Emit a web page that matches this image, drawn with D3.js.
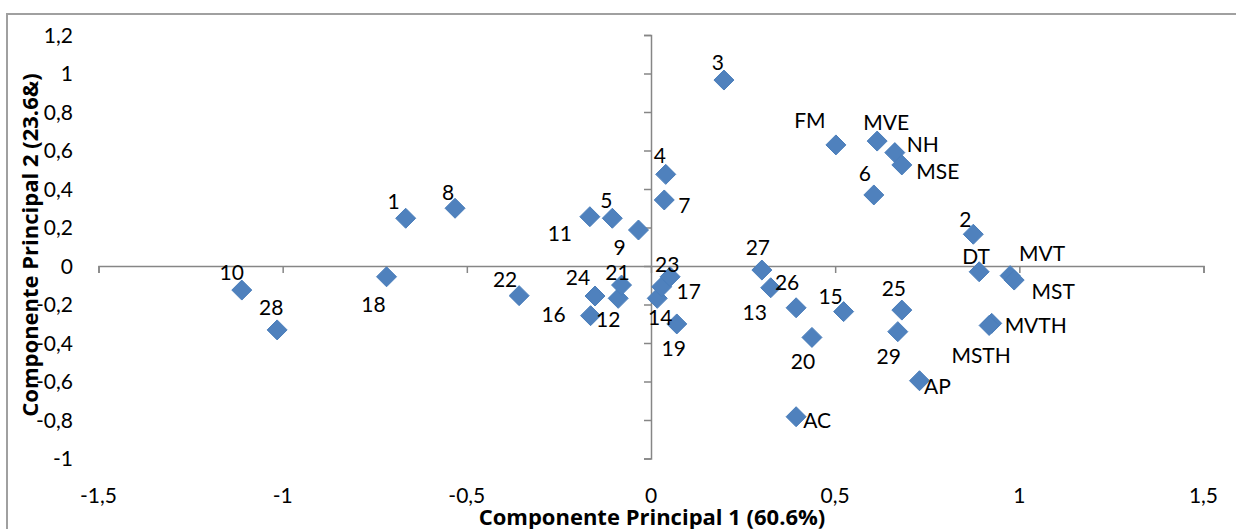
<!DOCTYPE html>
<html>
<head>
<meta charset="utf-8">
<script src="https://cdn.jsdelivr.net/npm/d3@7"></script>
<style>
  html, body { margin: 0; padding: 0; background: #fff; }
  svg { display: block; }
  text { font-family: Lato, "Open Sans", sans-serif; fill: #000; }
  .title { font-family: "Open Sans", Lato, sans-serif; font-weight: bold; }
</style>
</head>
<body>
<svg id="chart" width="1236" height="529"></svg>
<script>
// ---- data ----
const names = ["1","2","3","4","5","6","7","8","9","10","11","12","13","14","15","16","17","18","19","20","21","22","23","24","25","26","27","28","29","FM","MVE","NH","MSE","DT","MVT","MST","MVTH","MSTH","AP","AC"];
const pc1 = [-0.666,0.875,0.198,0.040,-0.105,0.605,0.036,-0.532,-0.034,-1.111,-0.166,-0.089,0.325,0.017,0.523,-0.164,0.029,-0.718,0.070,0.437,-0.080,-0.358,0.052,-0.152,0.681,0.394,0.301,-1.015,0.670,0.502,0.614,0.662,0.681,0.891,0.975,0.986,0.925,0.918,0.729,0.394];
const pc2 = [0.248,0.165,0.966,0.476,0.248,0.369,0.343,0.300,0.187,-0.125,0.256,-0.168,-0.113,-0.168,-0.237,-0.258,-0.108,-0.056,-0.301,-0.371,-0.099,-0.154,-0.056,-0.156,-0.229,-0.217,-0.021,-0.332,-0.341,0.629,0.649,0.589,0.525,-0.030,-0.050,-0.073,-0.298,-0.309,-0.596,-0.783];
const xTicks = [-1.5,-1,-0.5,0,0.5,1,1.5];
const yTicks = [-1,-0.8,-0.6,-0.4,-0.2,0,0.2,0.4,0.6,0.8,1,1.2];
const xTitle = "Componente Principal 1 (60.6%)";
const yTitle = "Componente Principal 2 (23.6&)";

// ---- layout (label placement offsets in px, relative to marker) ----
const labelOffset = {
  "1":[-12,-17],"2":[-8,-15],"3":[-6,-18],"4":[-6,-19],"5":[-6,-18],"6":[-9,-21],"7":[20,6],"8":[-7,-16],
  "9":[-19,17],"10":[-10,-18],"11":[-30,17],"12":[-10,21],"13":[-16,25],"14":[3,19],"15":[-13,-15],
  "16":[-37,-1],"17":[27,5],"18":[-13,28],"19":[-3,25],"20":[-9,24],"21":[-4,-13],"22":[-14,-16],
  "23":[-3,-12],"24":[-17,-19],"25":[-8,-22],"26":[-9,-25],"27":[-4,-23],"28":[-6,-22],"29":[-9,25],
  "FM":[-26,-24],"MVE":[9,-19],"NH":[28,-8],"MSE":[36,7],"DT":[-3,-15],"MVT":[32,-22],"MST":[39,11],
  "MVTH":[44,2],"MSTH":[-8,30],"AP":[18,6],"AC":[21,4]
};

const svg = d3.select("#chart");
const axisColor = "#868686";
const fmt = v => String(v).replace(".", ",");

// chart border
svg.append("rect").attr("x",7).attr("y",14).attr("width",1240).attr("height",530)
  .attr("fill","none").attr("stroke","#a0a0a0").attr("stroke-width",2);

const x = d3.scaleLinear().domain([-1.5,1.5]).range([98.5,1203.5]);
const y = d3.scaleLinear().domain([-1,1.2]).range([458.5,35]);

// X axis at y=0
const gx = svg.append("g").attr("transform",`translate(0,${y(0)})`)
  .call(d3.axisBottom(x).tickValues(xTicks).tickSize(7).tickFormat(""));
gx.select(".domain").attr("stroke",axisColor).attr("stroke-width",1.5);
gx.selectAll(".tick line").attr("stroke",axisColor).attr("stroke-width",1.5);

// Y axis at x=0
const gy = svg.append("g").attr("transform",`translate(${x(0)},0)`)
  .call(d3.axisLeft(y).tickValues(yTicks).tickSize(7).tickFormat(""));
gy.select(".domain").attr("stroke",axisColor).attr("stroke-width",1.5);
gy.selectAll(".tick line").attr("stroke",axisColor).attr("stroke-width",1.5);

// tick labels (low position)
svg.append("g").selectAll("text").data(xTicks).join("text")
  .attr("x",d=>x(d)).attr("y",503).attr("text-anchor","middle")
  .attr("font-size",21).text(fmt);
svg.append("g").selectAll("text").data(yTicks).join("text")
  .attr("x",73).attr("y",d=>y(d)+7.5).attr("text-anchor","end")
  .attr("font-size",21).text(fmt);

// titles
svg.append("text").attr("class","title").attr("x",652).attr("y",525).attr("text-anchor","middle")
  .attr("font-size",22).text(xTitle);
svg.append("text").attr("class","title").attr("transform","translate(38,245) rotate(-90)").attr("text-anchor","middle")
  .attr("font-size",22).text(yTitle);

// points
const pts = names.map((n,i)=>({name:n, a:pc1[i], b:pc2[i]}));
const r = 10;
const diamond = `M0,${-r}L${r},0L0,${r}L${-r},0Z`;
svg.append("g").selectAll("path").data(pts).join("path")
  .attr("transform",d=>`translate(${x(d.a)},${y(d.b)})`)
  .attr("d",diamond).attr("fill","#4F81BD").attr("stroke","#4A7EBB").attr("stroke-width",1);

// labels
svg.append("g").selectAll("text").data(pts).join("text")
  .attr("x",d=>x(d.a)+labelOffset[d.name][0])
  .attr("y",d=>y(d.b)+labelOffset[d.name][1]+7.5)
  .attr("text-anchor","middle").attr("font-size",21).text(d=>d.name);
</script>
</body>
</html>
